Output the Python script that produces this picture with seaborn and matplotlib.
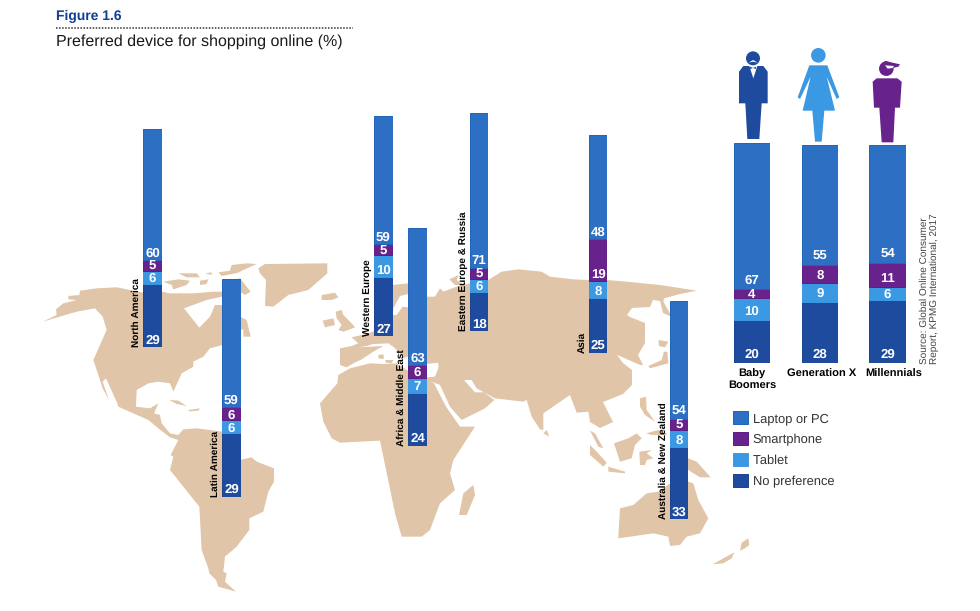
import matplotlib
matplotlib.use('Agg')
import matplotlib.pyplot as plt
import seaborn as sns
from matplotlib.patches import Polygon, Circle, Patch

sns.set_theme(style='white')
plt.rcParams['font.family'] = ['Liberation Sans', 'DejaVu Sans']
plt.rcParams['text.hinting'] = 'no_hinting'
plt.rcParams['text.kerning_factor'] = 6

# data
regions = ['North America', 'Latin America', 'Western Europe', 'Africa & Middle East',
           'Eastern Europe & Russia', 'Asia', 'Australia & New Zealand']
region_laptop = [60, 59, 59, 63, 71, 48, 54]
region_phone = [5, 6, 5, 6, 5, 19, 5]
region_tablet = [6, 6, 10, 7, 6, 8, 8]
region_none = [29, 29, 27, 24, 18, 25, 33]

generations = ['Baby\nBoomers', 'Generation X', 'Millennials']
gen_laptop = [67, 55, 54]
gen_phone = [4, 8, 11]
gen_tablet = [10, 9, 6]
gen_none = [20, 28, 29]

device_names = ['Laptop or PC', 'Smartphone', 'Tablet', 'No preference']
device_colors = ['#2D70C3', '#68228B', '#3B98E2', '#1F4B9F']
edge_colors = ['#1F64B8', '#5E1C80', '#3B98E2', '#1A4391']

# layout in reference pixels
W, H = 980, 611
PX_PER_UNIT = 2.18
region_left = [143.3, 222.3, 374.3, 408.3, 470, 589, 670]
region_bottom = [347, 496.7, 336, 445.7, 331, 352.7, 519]
gen_left = [733.7, 801.7, 869.3]
gen_label_x = [752, 822, 894]
gen_bottom = 363.3
LAND = '#E0C5A8'


def z(ox, oy, pts):
    return [(ox + x / 3, oy + y / 3) for x, y in pts]


fig = plt.figure(figsize=(W / 100, H / 100), dpi=100)
bg = fig.add_axes([0, 0, 1, 1])
bg.set_xlim(0, W)
bg.set_ylim(H, 0)
bg.axis('off')


def shape(pts, color=LAND, z_order=1):
    bg.add_patch(Polygon(pts, closed=True, facecolor=color, edgecolor='none', zorder=z_order))


# ---- world map backdrop
americas = z(30, 240, [
    (38, 245), (80, 225), (78, 208), (100, 190), (140, 180), (115, 178), (115, 168), (148, 165),
    (150, 152), (200, 145), (260, 142), (300, 150), (340, 158), (395, 155), (420, 160), (490, 160),
    (550, 155), (577, 155), (600, 150), (577, 170), (530, 180), (462, 205), (508, 263), (540, 230),
    (555, 195), (577, 195), (600, 230), (630, 230), (650, 240), (662, 290), (640, 290), (640, 268),
    (630, 270), (600, 290), (577, 315), (540, 325), (520, 350), (490, 365), (490, 380), (455, 400),
    (430, 455), (420, 430), (385, 425), (355, 430), (320, 450), (318, 500), (360, 505), (385, 490),
    (372, 520), (390, 525), (395, 550), (420, 580), (445, 585), (460, 568), (500, 565), (577, 575),
    (600, 600), (630, 660), (665, 652), (680, 665), (732, 685), (732, 725), (715, 755), (700, 815),
    (658, 835), (658, 870), (620, 920)])
americas += z(180, 540, [(135, 50), (130, 95), (140, 100), (135, 125), (168, 155), (115, 140),
                         (108, 120), (88, 100), (85, 85), (65, 30)])
americas += z(30, 240, [
    (508, 800), (420, 690), (430, 650), (422, 645), (445, 600), (420, 592), (385, 565), (355, 540),
    (265, 500), (262, 490), (228, 415), (218, 425), (237, 480), (218, 445), (205, 405), (190, 360),
    (230, 270), (218, 230), (195, 205), (140, 215)])
shape(americas)

for isl in [
    [(400, 125), (445, 118), (480, 122), (470, 135), (430, 148), (425, 135)],
    [(445, 100), (500, 100), (510, 112), (470, 112)],
    [(510, 122), (535, 118), (530, 132), (510, 135)],
    [(525, 100), (545, 97), (545, 105)],
    [(565, 97), (600, 92), (605, 75), (650, 70), (680, 72), (640, 90), (625, 98), (575, 108)],
    [(600, 120), (630, 115), (662, 155), (645, 165), (630, 155), (600, 155)],
    [(418, 480), (445, 482), (470, 498), (440, 492)],
    [(475, 510), (510, 505), (505, 512), (478, 514)],
    [(685, 85), (705, 72), (892, 70), (892, 100), (835, 150), (775, 165), (730, 200), (705, 198), (708, 120), (690, 100)],
    [(875, 165), (915, 158), (925, 172), (905, 180), (875, 180)],
]:
    shape(z(30, 240, isl))

# britain, ireland, med islands
shape(z(170, 250, [(497, 185), (515, 180), (520, 195), (545, 220), (555, 232), (535, 240), (520, 245), (505, 240), (515, 225), (500, 205)]))
shape(z(170, 250, [(458, 212), (490, 205), (495, 225), (465, 232)]))
shape(z(330, 260, [(145, 285), (160, 283), (162, 296), (146, 296)]))
shape(z(330, 260, [(165, 300), (190, 300), (185, 310), (168, 308)]))

eurasia = z(170, 250, [(510, 295), (545, 288), (565, 280), (545, 262), (575, 255), (610, 245), (640, 200)])
eurasia += z(360, 220, [
    (98, 195), (145, 190), (200, 230), (225, 230), (240, 205), (250, 215), (290, 200), (330, 190),
    (385, 180), (425, 155), (475, 148), (545, 155), (570, 170), (640, 178), (687, 180), (740, 180),
    (800, 185), (900, 195), (1010, 212), (960, 222), (912, 235), (910, 245)])
eurasia += [(672, 317), (663, 313), (660, 301), (653, 300), (650, 307), (632, 308), (627, 315), (630, 317),
            (645, 323), (645, 343), (638, 355), (643, 365), (640, 365), (622, 357), (617, 355), (623, 363),
            (632, 370), (632, 385), (623, 394), (603, 402), (613, 422), (600, 428), (590, 422)]
eurasia += z(360, 220, [
    (685, 575), (650, 578), (630, 525), (550, 580), (550, 630), (540, 628), (515, 590), (500, 540),
    (490, 545), (405, 535), (350, 505), (335, 480), (312, 480), (345, 517), (372, 517), (403, 540),
    (375, 565), (305, 600), (270, 560), (240, 495), (222, 488), (170, 480), (170, 400)])
eurasia += z(330, 260, [(213, 297), (217, 287), (192, 262), (175, 250), (130, 252), (110, 258), (85, 262)])
eurasia += z(170, 250, [(640, 288), (610, 305), (575, 328), (550, 340), (530, 352), (510, 345)])
shape(eurasia)

# seas cut out of the land
shape(z(360, 220, [(100, 265), (120, 228), (145, 222), (145, 262), (128, 260), (110, 285), (98, 285)]), 'white', 2)
shape(z(360, 220, [(200, 432), (235, 428), (235, 445), (225, 470), (200, 472)]), 'white', 2)

africa = z(30, 240, [(1020, 370), (960, 385), (925, 405), (922, 430), (870, 490), (880, 545), (905, 595), (930, 608), (990, 605)])
africa += z(360, 220, [
    (60, 662), (70, 710), (105, 880), (125, 950), (185, 950), (210, 930), (240, 850), (285, 810),
    (270, 760), (280, 720), (345, 620), (300, 620), (258, 560), (222, 490), (170, 470), (110, 430), (70, 432)])
shape(africa)

for isl in [
    [(340, 795), (345, 825), (320, 885), (297, 885), (310, 820)],
    [(268, 178), (296, 165), (290, 180), (310, 195), (285, 195)],
    [(550, 640), (560, 630), (568, 650)],
]:
    shape(z(360, 220, isl))

for isl in [
    [(0, 482), (15, 490), (40, 535), (25, 530)],
    [(0, 525), (20, 545), (50, 578), (40, 590), (0, 555)],
    [(55, 590), (105, 605), (105, 610), (55, 605)],
    [(72, 520), (115, 505), (140, 490), (155, 505), (135, 525), (125, 565), (90, 575)],
    [(148, 545), (185, 540), (170, 550), (190, 565), (170, 570), (165, 585), (150, 585)],
    [(150, 385), (168, 380), (170, 420), (195, 455), (165, 435), (150, 410)],
    [(168, 490), (205, 480), (230, 490), (230, 495), (185, 495)],
    [(240, 565), (295, 565), (320, 575), (362, 622), (330, 622), (295, 600), (240, 590)],
    [(205, 210), (235, 215), (225, 232), (207, 228)],
    [(222, 245), (232, 245), (235, 280), (180, 295), (175, 288), (215, 270)],
    [(85, 800), (90, 715), (130, 705), (170, 670), (205, 665), (240, 640), (295, 635), (310, 640),
     (325, 690), (355, 745), (330, 790), (290, 800), (270, 825), (240, 828), (235, 800), (190, 790), (85, 805)],
]:
    shape(z(590, 270, isl))
shape(z(690, 530, [(68, 103), (100, 85), (133, 67), (125, 85), (100, 100)]))
shape(z(690, 530, [(150, 62), (155, 38), (175, 25), (178, 45), (165, 55)]))


# ---- stacked bars, each on its own small axes scaled in percent
def stacked_bar(left, bottom, width, values, fsize=9.5, lift=3.7):
    total = sum(values)
    top = total * PX_PER_UNIT
    ax = fig.add_axes([left / W, 1 - bottom / H, width / W, top / H])
    ax.patch.set_alpha(0)
    base = 0
    # bottom to top: no preference, tablet, smartphone, laptop
    for i in [3, 2, 1, 0]:
        sns.barplot(x=[0], y=[values[i]], bottom=base, color=device_colors[i], saturation=1,
                    width=1, edgecolor=edge_colors[i], linewidth=0.7, ax=ax)
        offset = min(values[i] / 2, lift)
        ax.text(0, base + offset, str(values[i]), color='white', fontsize=fsize, fontweight='bold',
                ha='center', va='center_baseline')
        base += values[i]
    ax.set_xlim(-0.5, 0.5)
    ax.set_ylim(0, total)
    ax.axis('off')
    return ax


for i, name in enumerate(regions):
    vals = [region_laptop[i], region_phone[i], region_tablet[i], region_none[i]]
    stacked_bar(region_left[i], region_bottom[i], 18.3, vals)
    bg.text(region_left[i] - 6.5, region_bottom[i], name, rotation=90, fontsize=7.2, fontweight='bold',
            color='black', ha='center', va='bottom', zorder=5)

for i, name in enumerate(generations):
    vals = [gen_laptop[i], gen_phone[i], gen_tablet[i], gen_none[i]]
    stacked_bar(gen_left[i], gen_bottom, 36.5, vals, fsize=9.5, lift=4.6)
    bg.text(gen_label_x[i], 369, name, fontsize=8, fontweight='bold', color='black',
            ha='center', va='top', linespacing=1.1, zorder=5)

# ---- people icons
man, woman, young = device_colors[3], device_colors[2], device_colors[1]
bg.add_patch(Circle((720 + 99 / 3, 40 + 55 / 3), 7, color=man, lw=0))
shape(z(720, 40, [(57, 95), (70, 78), (130, 78), (143, 95), (143, 190), (125, 190), (118, 297), (82, 297), (76, 190), (57, 190)]), man)
shape(z(720, 40, [(88, 78), (112, 78), (100, 115)]), 'white', 2)
shape(z(720, 40, [(86, 68), (99, 60), (113, 68), (99, 65)]), 'white', 2)
shape(z(720, 40, [(90, 80), (99, 84), (108, 80), (108, 87), (99, 84), (90, 87)]), man, 3)

bg.add_patch(Circle((720 + 295 / 3, 40 + 46 / 3), 7.3, color=woman, lw=0))
shape(z(720, 40, [(268, 76), (322, 76), (358, 172), (350, 177), (320, 110), (345, 212), (313, 212), (305, 305),
                  (285, 305), (277, 212), (248, 212), (272, 110), (240, 177), (233, 172)]), woman)

bg.add_patch(Circle((720 + 499 / 3, 40 + 86 / 3), 7.3, color=young, lw=0, zorder=1))
shape(z(720, 40, [(480, 78), (495, 63), (540, 73), (535, 80), (510, 86), (495, 78)]), young)
shape(z(720, 40, [(495, 76), (522, 78), (518, 84), (503, 86)]), 'white', 2)
shape(z(720, 40, [(458, 125), (470, 115), (532, 115), (545, 125), (540, 203), (525, 203), (520, 307), (485, 307), (478, 203), (462, 203)]), young)

# ---- titles
bg.text(55.5, 16, 'Figure 1.6', fontsize=10, fontweight='bold', color='#0F3E92', va='center', ha='left')
bg.plot([55.5, 353], [27.7, 27.7], color='#333333', lw=1.1, linestyle=(0, (1, 1)))
bg.text(55.5, 41.5, 'Preferred device for shopping online (%)', fontsize=11.55, color='#1a1a1a', va='center', ha='left')

# ---- source
bg.text(929, 363.5, 'Source: Global Online Consumer\nReport, KPMG International, 2017', rotation=90,
        fontsize=7.2, color='#444444', ha='center', va='bottom', ma='left', linespacing=1.05)

# ---- legend
handles = [Patch(facecolor=c, edgecolor=e, linewidth=0.7) for c, e in zip(device_colors, edge_colors)]
leg = fig.legend(handles, device_names, loc='upper left', bbox_to_anchor=(733 / W, 1 - 411 / H),
                 bbox_transform=fig.transFigure, frameon=False, fontsize=9.3, handlelength=1.16,
                 handleheight=1.16, handletextpad=0.35, labelspacing=0.58, borderpad=0, borderaxespad=0)
for t in leg.get_texts():
    t.set_color('#333333')

fig.savefig('out.png', dpi=100)
